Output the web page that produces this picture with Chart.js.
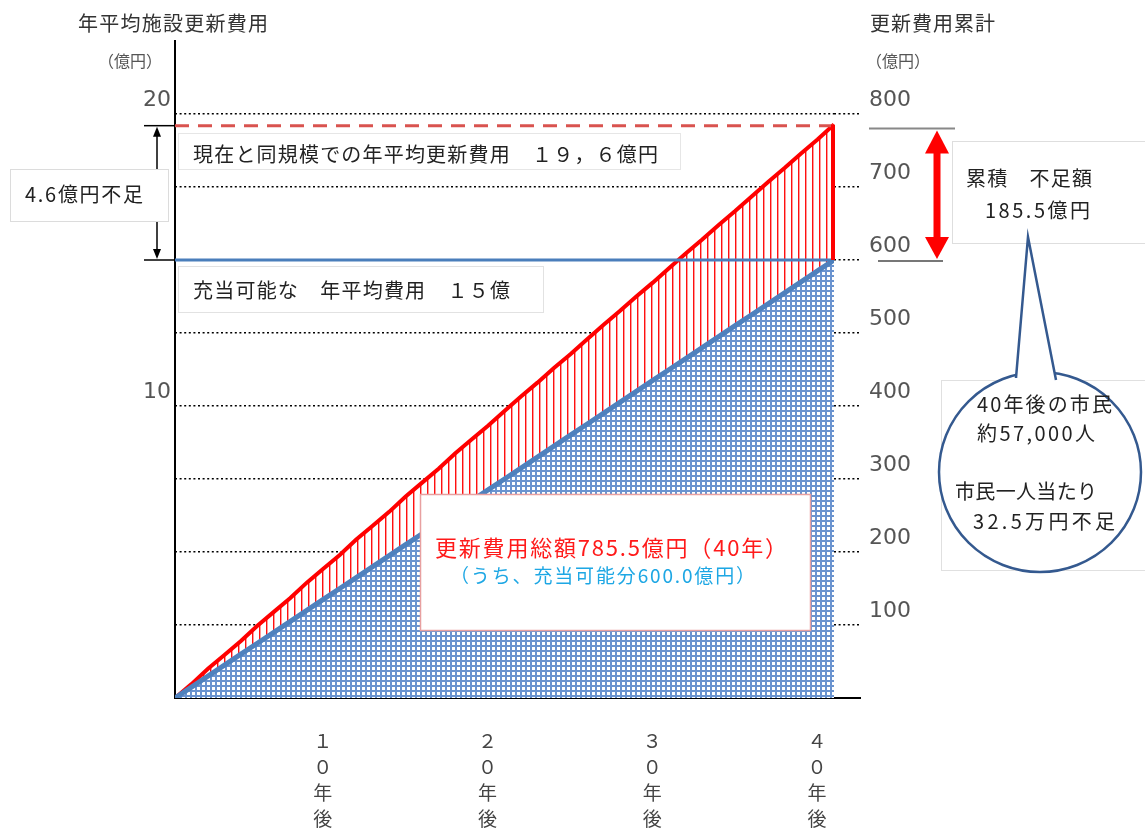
<!DOCTYPE html>
<html><head><meta charset="utf-8">
<script src="https://cdn.jsdelivr.net/npm/chart.js@4"></script>
<style>html,body{margin:0;padding:0;background:#fff}canvas{display:block}</style>
</head><body>
<canvas id="c" width="1145" height="834"></canvas>
<script>
// ---- data ----
const years = [0,1,2,3,4,5,6,7,8,9,10,11,12,13,14,15,16,17,18,19,20,21,22,23,24,25,26,27,28,29,30,31,32,33,34,35,36,37,38,39,40];
const cumulativeCost = [0,19,40,59,78,99,118,137,158,177,196,217,236,255,276,295,314,335,354,373,393,413,432,452,471,491,511,530,550,569,589,609,628,648,667,687,707,726,746,765,785.5];
const cumulativeAvailable = [0,15,30,45,60,75,90,105,120,135,150,165,180,195,210,225,240,255,270,285,300,315,330,345,360,375,390,405,420,435,450,465,480,495,510,525,540,555,570,585,600];
const currentAnnualAvg = 19.6;
const availableAnnualAvg = 15;
const leftTicks = [10, 20];
const rightTicks = [100, 200, 300, 400, 500, 600, 700, 800];
const xTicks = [10, 20, 30, 40];
const xTickLabels = [['１','０','年','後'], ['２','０','年','後'], ['３','０','年','後'], ['４','０','年','後']];

const JP = '"Noto Sans CJK JP", "Noto Sans", sans-serif';
const NUM = '"DejaVu Sans", "Noto Sans CJK JP", sans-serif';

function makeHatch() {
  const c = document.createElement('canvas'); c.width = 7; c.height = 7;
  const g = c.getContext('2d');
  g.fillStyle = '#ffffff'; g.fillRect(0, 0, 7, 7);
  g.fillStyle = '#ff1010'; g.fillRect(0, 0, 1, 7);
  g.fillStyle = '#ff9a9a'; g.fillRect(1, 0, 1, 7);
  return g.createPattern(c, 'repeat');
}
function makeGrid() {
  const c = document.createElement('canvas'); c.width = 5; c.height = 5;
  const g = c.getContext('2d');
  g.fillStyle = '#6a93cf'; g.fillRect(0, 0, 5, 5);
  g.fillStyle = '#ffffff'; g.fillRect(2, 2, 3, 3);
  return g.createPattern(c, 'repeat');
}

function txt(g, s, x, y, w, size, color, weight) {
  g.save();
  g.font = (weight || 'normal') + ' ' + size + 'px ' + JP;
  g.fillStyle = color; g.textBaseline = 'middle'; g.textAlign = 'left';
  const n = [...s].length;
  const m = g.measureText(s).width;
  if (w && n > 1 && ('letterSpacing' in g)) {
    let ls = (w - m) / (n - 1);
    ls = Math.max(-4, Math.min(8, ls));
    g.letterSpacing = ls.toFixed(2) + 'px';
  }
  g.fillText(s, x, y);
  g.restore();
}
function box(g, x, y, w, h, stroke, lw) {
  g.save();
  g.fillStyle = '#fff'; g.fillRect(x, y, w, h);
  g.strokeStyle = stroke; g.lineWidth = lw || 1; g.strokeRect(x + 0.5, y + 0.5, w, h);
  g.restore();
}
function line(g, x1, y1, x2, y2, color, lw) {
  g.save(); g.strokeStyle = color; g.lineWidth = lw; g.beginPath(); g.moveTo(x1, y1); g.lineTo(x2, y2); g.stroke(); g.restore();
}
function tri(g, x1, y1, x2, y2, x3, y3, color) {
  g.save(); g.fillStyle = color; g.beginPath(); g.moveTo(x1, y1); g.lineTo(x2, y2); g.lineTo(x3, y3); g.closePath(); g.fill(); g.restore();
}

const annot = {
  id: 'annot',
  afterDraw(chart) {
    const g = chart.ctx;
    const ca = chart.chartArea;
    const yL = chart.scales.yL, yR = chart.scales.yR, xs = chart.scales.x;
    const y0 = yR.getPixelForValue(0);
    line(g, ca.right, y0, ca.right + 27, y0, '#000', 2);
    const xe = xs.getPixelForValue(years[years.length - 1]);
    line(g, xe - 1, yR.getPixelForValue(cumulativeCost[cumulativeCost.length - 1]), xe - 1, yR.getPixelForValue(cumulativeAvailable[cumulativeAvailable.length - 1]), '#ff0000', 4);

    // axis titles
    txt(g, '年平均施設更新費用', 78, 23, 190, 20, '#333');
    txt(g, '（億円）', 98, 61, null, 16, '#555');
    txt(g, '更新費用累計', 870, 23, 125, 20, '#333');
    txt(g, '（億円）', 866, 61, null, 16, '#555');

    // black double arrow (4.6)
    const yA = yL.getPixelForValue(currentAnnualAvg), yB = yL.getPixelForValue(availableAnnualAvg);
    line(g, 144, yA, ca.left, yA, '#000', 1.5);
    line(g, 144, yB, ca.left, yB, '#000', 1.5);
    line(g, 157, yA + 6, 157, yB - 6, '#000', 1.5);
    tri(g, 157, yA + 1, 153, yA + 11, 161, yA + 11, '#000');
    tri(g, 157, yB - 1, 153, yB - 11, 161, yB - 11, '#000');
    box(g, 10, 169, 158, 52, '#dcdcdc', 1);
    txt(g, '4.6億円不足', 25, 194, 118, 20, '#222');

    // line labels
    box(g, 178, 133, 502, 36, '#e6e6e6', 1);
    txt(g, '現在と同規模での年平均更新費用　１９，６億円', 193, 154, 465, 20, '#222');
    box(g, 178, 266, 365, 46, '#e2e2e2', 1);
    txt(g, '充当可能な　年平均費用　１５億', 193, 290, 317, 20, '#222');

    // total box
    box(g, 420, 494, 390, 136, '#e8a0a0', 1.5);
    txt(g, '更新費用総額785.5億円（40年）', 435, 548, 352, 22, '#ff1a1a');
    txt(g, '（うち、充当可能分600.0億円）', 450, 576, 305, 19, '#1ea7e4');

    // red double arrow on right
    const yT = yR.getPixelForValue(cumulativeCost[cumulativeCost.length - 1]);
    const yS = yR.getPixelForValue(cumulativeAvailable[cumulativeAvailable.length - 1]);
    line(g, 869, yT + 4, 955, yT + 4, '#888', 2);
    line(g, 878, yS + 1, 943, yS + 1, '#777', 2);
    line(g, 937, yT + 20, 937, yS - 20, '#ff0000', 7);
    tri(g, 937, yT + 6, 925, yT + 29, 949, yT + 29, '#ff0000');
    tri(g, 937, yS - 1, 925, yS - 23, 949, yS - 23, '#ff0000');
    box(g, 952, 141, 200, 102, '#dedede', 1);
    txt(g, '累積　不足額', 966, 178, 126, 20, '#222');
    txt(g, '185.5億円', 985, 210, 105, 20, '#222');

    // bubble
    box(g, 941, 380, 210, 190, '#e0e0e0', 1);
    g.save();
    g.beginPath(); g.ellipse(1040, 472, 101, 100, 0, 0, Math.PI * 2);
    g.fillStyle = '#fff'; g.fill();
    g.strokeStyle = '#34598f'; g.lineWidth = 2.5; g.stroke();
    g.beginPath(); g.moveTo(1016, 378); g.lineTo(1028, 237); g.lineTo(1056, 380); g.closePath();
    g.fillStyle = '#fff'; g.fill();
    g.beginPath(); g.moveTo(1016, 378); g.lineTo(1028, 237); g.lineTo(1056, 380);
    g.strokeStyle = '#34598f'; g.lineWidth = 2.5; g.lineJoin = 'miter'; g.stroke();
    g.restore();
    txt(g, '40年後の市民', 977, 404, 135, 20, '#222');
    txt(g, '約57,000人', 977, 433, 118, 20, '#222');
    txt(g, '市民一人当たり', 955, 491, 142, 20, '#222');
    txt(g, '32.5万円不足', 973, 521, 142, 20, '#222');
  }
};

const ctx = document.getElementById('c').getContext('2d');
new Chart(ctx, {
  type: 'line',
  data: {
    datasets: [
      { label: '更新費用累計', data: years.map((x, i) => ({ x, y: cumulativeCost[i] })), yAxisID: 'yR',
        borderColor: '#ff0000', borderWidth: 4, pointRadius: 0, tension: 0,
        fill: { target: 1, above: makeHatch(), below: 'rgba(0,0,0,0)' }, order: 2 },
      { label: '充当可能累計', data: years.map((x, i) => ({ x, y: cumulativeAvailable[i] })), yAxisID: 'yR',
        borderColor: '#4f81bd', borderWidth: 5, pointRadius: 0, tension: 0,
        fill: 'origin', backgroundColor: makeGrid(), order: 1 },
      { label: '現在と同規模', data: [{ x: years[0], y: currentAnnualAvg }, { x: years[years.length - 1], y: currentAnnualAvg }], yAxisID: 'yL',
        borderColor: '#d9534f', borderWidth: 3, borderDash: [14, 9], pointRadius: 0, fill: false, order: 0 },
      { label: '充当可能', data: [{ x: years[0], y: availableAnnualAvg }, { x: years[years.length - 1], y: availableAnnualAvg }], yAxisID: 'yL',
        borderColor: '#4a7ebb', borderWidth: 3, pointRadius: 0, fill: false, order: 0 }
    ]
  },
  options: {
    responsive: false, animation: false, devicePixelRatio: 1,
    layout: { padding: { top: 41, left: 0, right: 0, bottom: 0 } },
    plugins: { legend: { display: false }, tooltip: { enabled: false }, title: { display: false } },
    scales: {
      x: {
        type: 'linear', min: 0, max: 40,
        afterBuildTicks: s => { s.ticks = xTicks.map(v => ({ value: v })); },
        ticks: { callback: v => xTickLabels[xTicks.indexOf(v)], labelOffset: -17, padding: 30, maxRotation: 0, autoSkip: false,
          font: { family: JP, size: 19, lineHeight: 1.37 }, color: '#444' },
        grid: { display: false, drawTicks: false },
        border: { color: '#000', width: 2 },
        afterFit: s => { s.height = 136; }
      },
      yL: {
        type: 'linear', position: 'left', min: 0, max: 22.5,
        afterBuildTicks: s => { s.ticks = leftTicks.map(v => ({ value: v })); },
        ticks: { labelOffset: -14, padding: 4, font: { family: NUM, size: 22 }, color: '#555' },
        grid: { display: false, drawTicks: false },
        border: { color: '#000', width: 2 },
        afterFit: s => { s.width = 175; }
      },
      yR: {
        type: 'linear', position: 'right', min: 0, max: 900,
        afterBuildTicks: s => { s.ticks = rightTicks.map(v => ({ value: v })); },
        ticks: { labelOffset: -14, padding: 8, font: { family: NUM, size: 22 }, color: '#555' },
        grid: { color: '#000', lineWidth: 1.6, drawTicks: true, tickLength: 27, tickColor: '#000', tickWidth: 1.6, tickBorderDash: [2, 2.6], drawOnChartArea: true },
        border: { display: false, dash: [2, 2.6] },
        afterFit: s => { s.width = 311; }
      }
    }
  },
  plugins: [annot]
});
</script>
</body></html>
